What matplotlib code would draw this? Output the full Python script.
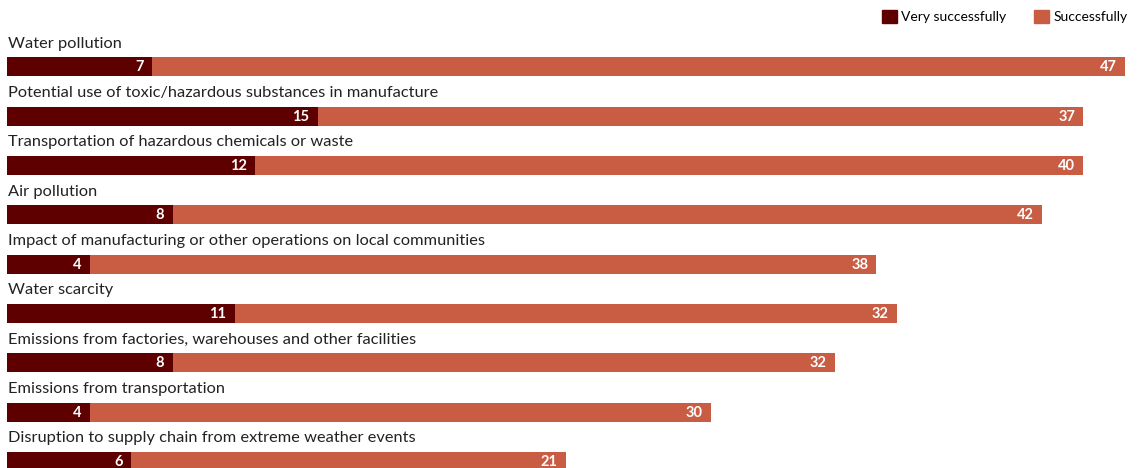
import matplotlib
matplotlib.use('Agg')
import matplotlib.pyplot as plt
from matplotlib.patches import Patch

# survey results, % of respondents
issues = ['Water pollution',
          'Potential use of toxic/hazardous substances in manufacture',
          'Transportation of hazardous chemicals or waste',
          'Air pollution',
          'Impact of manufacturing or other operations on local communities',
          'Water scarcity',
          'Emissions from factories, warehouses and other facilities',
          'Emissions from transportation',
          'Disruption to supply chain from extreme weather events']
very_successfully = [7, 15, 12, 8, 4, 11, 8, 4, 6]
successfully = [47, 37, 40, 42, 38, 32, 32, 30, 21]

dark = '#5E0000'
light = '#C85D44'
font = ['Lato', 'DejaVu Sans']

W, H = 1145, 468
fig = plt.figure(figsize=(W/100, H/100), dpi=100)
ax = fig.add_axes([0, 0, 1, 1])

px_unit = 20.7      # pixels per percentage point
pitch = 49.3        # row spacing in pixels
top = 67            # first bar centre from top
ax.set_xlim(-7/px_unit, (W-7)/px_unit)
ax.set_ylim((H-top)/pitch, -top/pitch)
ax.axis('off')

bh = 19/pitch
for i, (name, v, s) in enumerate(zip(issues, very_successfully, successfully)):
    ax.barh(i, v, height=bh, color=dark, linewidth=0)
    ax.barh(i, s, left=v, height=bh, color=light, linewidth=0)
    ax.text(0.05, i - 0.47, name, ha='left', va='center',
            fontsize=11.8, color='#222222', family=font)
    ax.text(v - 0.4, i + 0.01, str(v), ha='right', va='center',
            fontsize=10.5, fontweight='bold', color='white', family=font)
    ax.text(v + s - 0.4, i + 0.01, str(s), ha='right', va='center',
            fontsize=10.5, fontweight='bold', color='white', family=font)

handles = [Patch(color=dark, label='Very successfully'),
           Patch(color=light, label='Successfully')]
fig.legend(handles=handles, loc='upper right', bbox_to_anchor=(1140/W, 1 + 3/H),
           ncol=2, frameon=False, handlelength=1.1, handleheight=1.1,
           handletextpad=0.3, columnspacing=2.0,
           prop={'family': font, 'size': 10})

fig.savefig('out.png', dpi=100, facecolor='white')
